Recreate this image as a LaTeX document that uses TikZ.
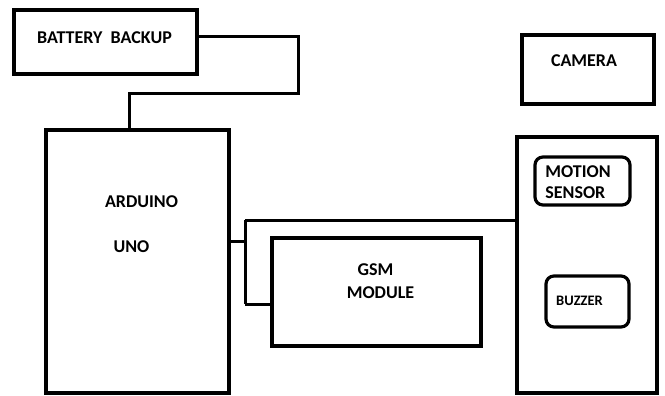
\documentclass[tikz,border=0pt]{standalone}
\usepackage{fontspec}
\setmainfont{Carlito}

\begin{document}
\begin{tikzpicture}[x=1pt,y=-1pt,
    box/.style={draw,line width=3.2pt,inner sep=0pt},
    rbox/.style={box,rounded corners=8pt},
    lbl/.style={font=\fontsize{18}{21}\selectfont\bfseries,inner sep=0pt},
    wire/.style={line width=3pt}]
  \useasboundingbox (0,0) rectangle (665,396);
  % blocks
  \node[box,minimum width=183pt,minimum height=64pt] (battery) at (105.5,42) {};
  \node[box,minimum width=132pt,minimum height=69pt] (camera) at (588,69.5) {};
  \node[box,minimum width=183pt,minimum height=263pt] (arduino) at (137.5,261.5) {};
  \node[box,minimum width=209pt,minimum height=108pt] (gsm) at (376.5,292) {};
  \node[box,minimum width=140pt,minimum height=256pt] (sensors) at (587,265) {};
  \node[rbox,minimum width=95pt,minimum height=48pt] (motion) at (582.5,181) {};
  \node[rbox,minimum width=83pt,minimum height=51pt] (buzzer) at (587.5,301.5) {};
  % texts
  \node[lbl] (batterytxt) at (104.5,38) {BATTERY~~BACKUP};
  \node[lbl] (cameratxt) at (584,61) {CAMERA};
  \node[lbl] (arduinotxt) at (141.5,202) {ARDUINO};
  \node[lbl] (unotxt) at (131.5,247) {UNO};
  \node[lbl] (gsmtxt) at (375.5,270) {GSM};
  \node[lbl] (moduletxt) at (380.5,293) {MODULE};
  \node[lbl,align=left] (motiontxt) at (578,182.5) {MOTION\\SENSOR};
  \node[lbl,font=\fontsize{14.5}{16}\selectfont\bfseries] (buzzertxt) at (579.5,301) {BUZZER};
  % wires
  \coordinate (bend) at (298,94);
  \coordinate (split) at (245,241);
  \coordinate (top) at (245,220);
  \coordinate (bot) at (245,304);
  \draw[wire] ([yshift=5pt]battery.east) -| (bend) -| ([xshift=-8.5pt]arduino.north);
  \draw[wire] ([yshift=20.5pt]arduino.east) -- (split);
  \draw[wire] (top) -- (bot);
  \draw[wire] (top) -- (top -| sensors.west);
  \draw[wire] (bot) -- (bot -| gsm.west);
\end{tikzpicture}
\end{document}
